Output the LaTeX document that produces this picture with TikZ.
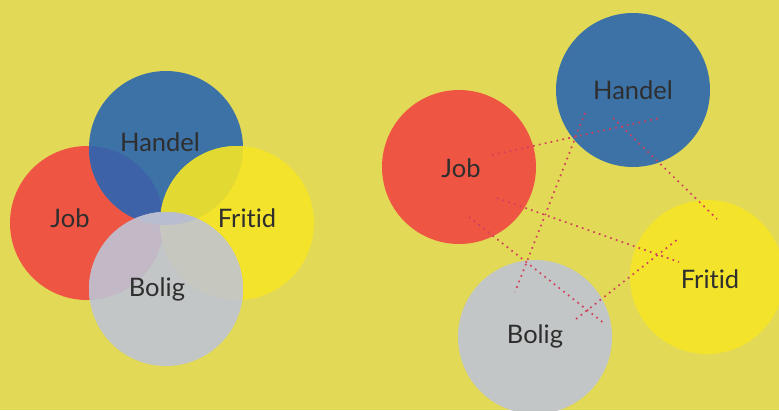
\documentclass[tikz,border=0pt]{standalone}
\usepackage{fontspec}
\setmainfont[Ligatures=NoCommon]{Lato}
\definecolor{bg}{HTML}{E2D957}
\definecolor{cred}{HTML}{EE5543}
\definecolor{cblue}{HTML}{3D72A7}
\definecolor{cyel}{HTML}{F4E32B}
\definecolor{cgrey}{HTML}{C3C6C6}
\definecolor{ovJH}{HTML}{3E62A8}
\definecolor{ovHF}{HTML}{E2D932}
\definecolor{ovBJ}{HTML}{C2B8C6}
\definecolor{ovBF}{HTML}{C6C7BF}
\definecolor{ovBH}{HTML}{B8BED0}
\definecolor{txt}{HTML}{2E2E2E}
\definecolor{dotc}{HTML}{D0405E}
\newcommand{\fritidtxt}{Frit\kern0pt id}
\begin{document}
\begin{tikzpicture}[x=1pt,y=-1pt,
  lbl/.style={text=txt,font=\fontsize{25.5}{25.5}\selectfont,inner sep=0pt},
  disc/.style={circle,minimum size=154pt,inner sep=0pt,draw=none},
  dotline/.style={draw=dotc,line width=1.7pt,dash pattern=on 1.7pt off 4.3pt}]
\useasboundingbox (0,0) rectangle (779,410);
\fill[bg] (0,0) rectangle (779,410);
% ---------- left group ----------
\def\R{77}
\node[disc,fill=cred] (lJ) at (87,223) {};
\node[disc,fill=cblue] (lH) at (166,148) {};
\begin{scope}
  \clip (87,223) circle (\R);
  \fill[ovJH] (166,148) circle (\R);
\end{scope}
\node[disc,fill=cyel] (lF) at (237,223) {};
\begin{scope}
  \clip (166,148) circle (\R);
  \fill[ovHF] (237,223) circle (\R);
\end{scope}
\node[disc,fill=cgrey] (lB) at (166,289) {};
\begin{scope}
  \clip (166,289) circle (\R);
  \fill[ovBJ] (87,223) circle (\R);
  \fill[ovBF] (237,223) circle (\R);
  \fill[ovBH] (166,148) circle (\R);
\end{scope}
\node[lbl] (tlH) at (160,142) {Handel};
\node[lbl] (tlJ) at (70,218) {Job};
\node[lbl] (tlF) at (247,218) {\fritidtxt};
\node[lbl] (tlB) at (157,289) {Bolig};
% ---------- right group ----------
\node[disc,fill=cblue] (rH) at (633,90) {};
\node[disc,fill=cred] (rJ) at (459,167) {};
\node[disc,fill=cyel] (rF) at (707,277) {};
\node[disc,fill=cgrey] (rB) at (535,337) {};
\node[lbl] (trH) at (633,90) {Handel};
\node[lbl] (trJ) at (461,168) {Job};
\node[lbl] (trF) at (710,279) {\fritidtxt};
\node[lbl] (trB) at (535,336) {Bolig};
% endpoints
\coordinate (a1) at (492,155); \coordinate (a2) at (660,118);
\coordinate (b1) at (585,113); \coordinate (b2) at (515,292);
\coordinate (c1) at (613,118); \coordinate (c2) at (717,219);
\coordinate (d1) at (497,198); \coordinate (d2) at (679,262);
\coordinate (e1) at (469,217); \coordinate (e2) at (605,324);
\coordinate (f1) at (576,319); \coordinate (f2) at (678,239);
\draw[dotline] (a1) -- (a2);
\draw[dotline] (b1) -- (b2);
\draw[dotline] (c1) -- (c2);
\draw[dotline] (d1) -- (d2);
\draw[dotline] (e1) -- (e2);
\draw[dotline] (f1) -- (f2);
\end{tikzpicture}
\end{document}
